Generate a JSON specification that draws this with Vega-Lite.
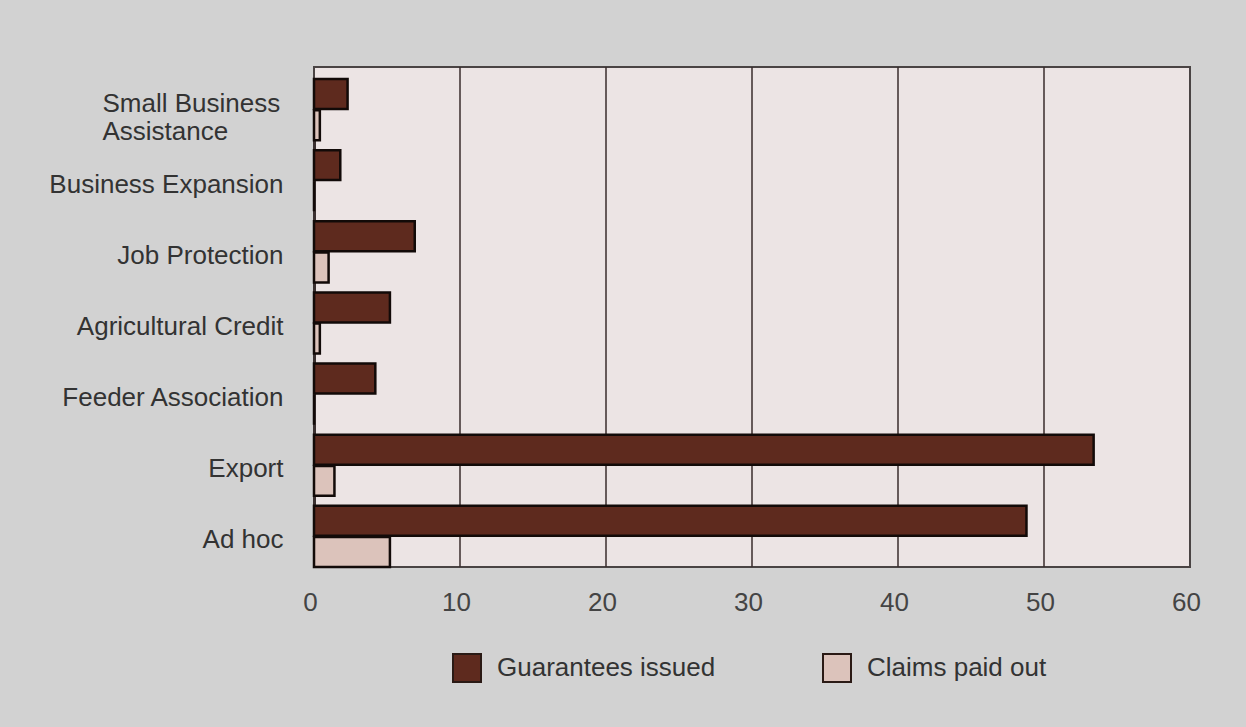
{
  "$schema": "https://vega.github.io/schema/vega-lite/v6.json",
  "width": 876,
  "height": 500,
  "autosize": {"type": "none"},
  "padding": {"left": 314, "top": 67, "right": 56, "bottom": 160},
  "background": "#d2d2d2",
  "config": {
    "font": "Liberation Sans",
    "view": {"fill": "#ece4e4", "stroke": "#4a4444", "strokeWidth": 2}
  },
  "layer": [
    {
      "data": {"values": [{"tick": 10}, {"tick": 20}, {"tick": 30}, {"tick": 40}, {"tick": 50}]},
      "mark": {"type": "rule", "color": "#3a2c2c", "strokeWidth": 1.5},
      "encoding": {
        "x": {"field": "tick", "type": "quantitative"}
      }
    },
    {
      "data": {
        "values": [
          {"program": "Small Business Assistance", "series": "Guarantees issued", "value": 2.3},
          {"program": "Small Business Assistance", "series": "Claims paid out", "value": 0.4},
          {"program": "Business Expansion", "series": "Guarantees issued", "value": 1.8},
          {"program": "Business Expansion", "series": "Claims paid out", "value": 0},
          {"program": "Job Protection", "series": "Guarantees issued", "value": 6.9},
          {"program": "Job Protection", "series": "Claims paid out", "value": 1.0},
          {"program": "Agricultural Credit", "series": "Guarantees issued", "value": 5.2},
          {"program": "Agricultural Credit", "series": "Claims paid out", "value": 0.4},
          {"program": "Feeder Association", "series": "Guarantees issued", "value": 4.2},
          {"program": "Feeder Association", "series": "Claims paid out", "value": 0},
          {"program": "Export", "series": "Guarantees issued", "value": 53.4},
          {"program": "Export", "series": "Claims paid out", "value": 1.4},
          {"program": "Ad hoc", "series": "Guarantees issued", "value": 48.8},
          {"program": "Ad hoc", "series": "Claims paid out", "value": 5.2}
        ]
      },
      "mark": {"type": "bar", "stroke": "#120a08", "strokeWidth": 2.5},
      "encoding": {
        "y": {
          "field": "program",
          "type": "nominal",
          "sort": ["Small Business Assistance", "Business Expansion", "Job Protection", "Agricultural Credit", "Feeder Association", "Export", "Ad hoc"],
          "scale": {"range": [12, 500], "paddingInner": 0.14, "paddingOuter": 0},
          "axis": {
            "title": null,
            "domain": true,
            "domainColor": "#3a3030",
            "domainWidth": 3,
            "ticks": false,
            "grid": false,
            "labelPadding": {"condition": {"test": "datum.value == 'Small Business Assistance'", "value": 212}, "value": 31},
            "labelAlign": {"condition": {"test": "datum.value == 'Small Business Assistance'", "value": "left"}, "value": "right"},
            "labelOffset": {"condition": {"test": "datum.value == 'Small Business Assistance'", "value": -6}, "value": 4},
            "labelFontSize": 26,
            "labelColor": "#333333",
            "labelLimit": 400,
            "labelLineHeight": 28,
            "labelExpr": "datum.label == 'Small Business Assistance' ? ['Small Business', 'Assistance'] : datum.label"
          }
        },
        "yOffset": {
          "field": "series",
          "type": "nominal",
          "sort": ["Guarantees issued", "Claims paid out"],
          "scale": {"paddingInner": 0.04, "paddingOuter": 0}
        },
        "x": {
          "field": "value",
          "type": "quantitative",
          "scale": {"domain": [0, 60], "nice": false},
          "axis": {
            "title": null,
            "values": [0, 10, 20, 30, 40, 50, 60],
            "domain": false,
            "ticks": false,
            "grid": false,
            "labelPadding": 22,
            "labelFontSize": 26,
            "labelColor": "#444444",
            "labelFlush": false,
            "labelOffset": -4
          }
        },
        "color": {
          "field": "series",
          "type": "nominal",
          "sort": ["Guarantees issued", "Claims paid out"],
          "scale": {"domain": ["Guarantees issued", "Claims paid out"], "range": ["#5e2a1e", "#dcc3bb"]},
          "legend": {
            "title": null,
            "orient": "none",
            "legendX": 138,
            "legendY": 586,
            "direction": "horizontal",
            "symbolType": "square",
            "symbolSize": 784,
            "symbolStrokeColor": "#2a1a15",
            "symbolStrokeWidth": 2,
            "labelFontSize": 26,
            "labelColor": "#333333",
            "labelLimit": 400,
            "labelOffset": 15,
            "columnPadding": 103
          }
        }
      }
    }
  ]
}
